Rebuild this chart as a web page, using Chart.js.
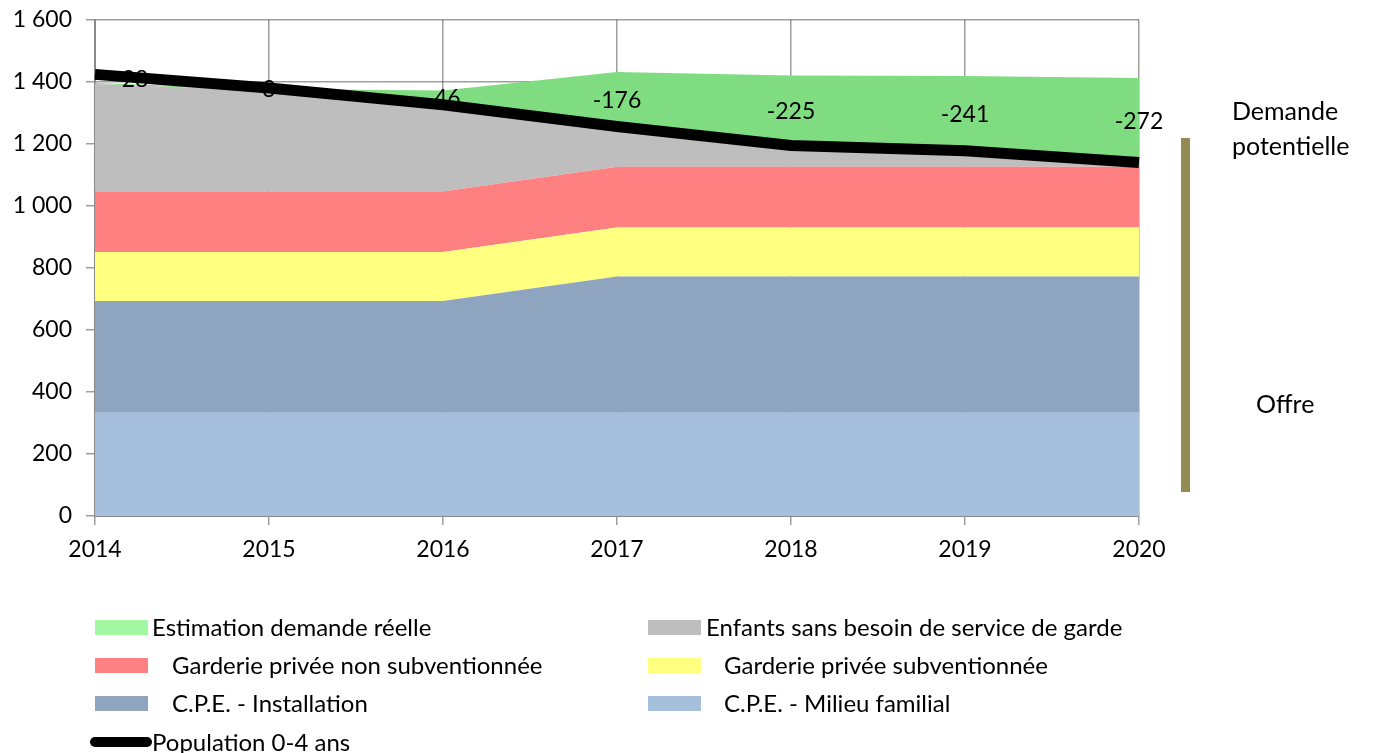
<!DOCTYPE html>
<html>
<head>
<meta charset="utf-8">
<script src="https://cdn.jsdelivr.net/npm/chart.js@4.4.1/dist/chart.umd.min.js"></script>
<style>
  html, body { margin: 0; padding: 0; background: #fff; }
  #wrap { position: relative; width: 1377px; height: 753px; overflow: hidden; font-family: Lato, "Noto Sans", sans-serif; color: #000; }
  #wrap canvas { position: absolute; left: 0; top: -8px; }
  .leg { position: absolute; display: flex; align-items: center; font-size: 24px; white-space: pre; height: 30px; line-height: 30px; }
  .sw { display: inline-block; width: 53px; height: 15px; flex: none; }
  .ln { display: inline-block; width: 62px; height: 10px; border-radius: 5px; background: #000; flex: none; }
  .note { position: absolute; font-size: 25px; line-height: 35px; }
  #bar { position: absolute; left: 1181px; top: 138px; width: 9px; height: 354px; background: #948A54; }
</style>
</head>
<body>
<div id="wrap">
  <canvas id="c" width="1377" height="761"></canvas>
  <div id="bar"></div>
  <div class="note" style="left:1232px; top:93px;">Demande<br>potentielle</div>
  <div class="note" style="left:1256px; top:386px;">Offre</div>
  <div id="legend"></div>
</div>
<script>
// ---- Data ----
const years = ['2014', '2015', '2016', '2017', '2018', '2019', '2020'];
const cpeMilieuFamilial = [333, 333, 333, 333, 333, 333, 333];
const cpeInstallation = [360, 360, 360, 439, 439, 439, 439];
const garderieSubventionnee = [158, 158, 158, 158, 158, 158, 158];
const garderieNonSubventionnee = [195, 195, 195, 196, 196, 196, 196];
const enfantsSansBesoin = [347, 326, 276, 119, 56, 42, 6];
const demandeReelle = [3, 5, 50, 187, 238, 251, 280];
const population04 = [1424, 1380, 1326, 1256, 1195, 1178, 1140];
const ecartLabels = ['28', '3', '-46', '-176', '-225', '-241', '-272'];
const yTicks = [0, 200, 400, 600, 800, 1000, 1200, 1400, 1600];

const FONT = 'Lato, "Noto Sans", sans-serif';

const areaSeries = [
  { label: 'C.P.E. - Milieu familial', data: cpeMilieuFamilial, color: '#A6BFDC' },
  { label: 'C.P.E. - Installation', data: cpeInstallation, color: '#8EA4BF' },
  { label: 'Garderie privée subventionnée', data: garderieSubventionnee, color: '#FFFF80' },
  { label: 'Garderie privée non subventionnée', data: garderieNonSubventionnee, color: '#FF8080' },
  { label: 'Enfants sans besoin de service de garde', data: enfantsSansBesoin, color: '#BEBEBE' },
  { label: 'Estimation demande réelle', data: demandeReelle, color: '#80DC80' }
];

const datasets = areaSeries.map((s, i) => ({
  label: s.label,
  data: s.data,
  stack: 'offre',
  backgroundColor: s.color,
  borderWidth: 0,
  pointRadius: 0,
  fill: i === 0 ? 'origin' : '-1',
  tension: 0,
  order: 10
}));
datasets.push({
  label: 'Population 0-4 ans',
  data: population04,
  stack: 'pop',
  borderColor: '#000',
  borderWidth: 11,
  pointRadius: 0,
  fill: false,
  tension: 0,
  order: 0
});

const labelPlugin = {
  id: 'ecart',
  afterDatasetsDraw(chart) {
    const ctx = chart.ctx;
    const xs = chart.scales.x, ys = chart.scales.y;
    ctx.save();
    ctx.font = '23px ' + FONT;
    ctx.fillStyle = '#000';
    ctx.textBaseline = 'middle';
    ctx.textAlign = 'center';
    years.forEach((y, i) => {
      let top = 0;
      areaSeries.forEach(s => top += s.data[i]);
      const v = (top + population04[i]) / 2;
      let x = xs.getPixelForValue(i);
      if (i === 0) x += 40;
      ctx.fillText(ecartLabels[i], x, ys.getPixelForValue(v) + 1);
    });
    ctx.restore();
  }
};

const gridColor = 'rgba(40,40,40,0.45)';
new Chart(document.getElementById('c'), {
  type: 'line',
  data: { labels: years, datasets },
  options: {
    responsive: false,
    animation: false,
    layout: { padding: { left: 0, right: 238, top: 12, bottom: 187 } },
    plugins: { legend: { display: false }, tooltip: { enabled: false } },
    scales: {
      x: {
        z: 1,
        offset: false,
        grid: { color: gridColor, lineWidth: 1.5, tickLength: 9, drawTicks: true },
        border: { color: '#8a8a8a', width: 2 },
        ticks: { color: '#000', font: { family: FONT, size: 23 }, padding: 11, maxRotation: 0 },
        afterFit(s) { s.height = 50; }
      },
      y: {
        stacked: true,
        z: 1,
        min: 0, max: 1600,
        afterBuildTicks(s) { s.ticks = yTicks.map(v => ({ value: v })); },
        grid: { color: gridColor, lineWidth: 1.5, tickLength: 9 },
        border: { color: '#8a8a8a', width: 2 },
        ticks: {
          color: '#000', font: { family: FONT, size: 23 }, padding: 14,
          callback: v => String(v).replace(/\B(?=(\d{3})+(?!\d))/g, ' ')
        },
        afterFit(s) { s.width = 95; }
      }
    }
  },
  plugins: [labelPlugin]
});

// ---- HTML legend ----
const legendItems = [
  { label: 'Estimation demande réelle', color: '#A2F8A2', x: 95, y: 627, pad: 4 },
  { label: 'Enfants sans besoin de service de garde', color: '#BEBEBE', x: 648, y: 627, pad: 5 },
  { label: 'Garderie privée non subventionnée', color: '#FF8080', x: 95, y: 665, pad: 24 },
  { label: 'Garderie privée subventionnée', color: '#FFFF80', x: 648, y: 665, pad: 23 },
  { label: 'C.P.E. - Installation', color: '#8EA4BF', x: 95, y: 703, pad: 24 },
  { label: 'C.P.E. - Milieu familial', color: '#A6BFDC', x: 648, y: 703, pad: 23 }
];
const leg = document.getElementById('legend');
legendItems.forEach(it => {
  const d = document.createElement('div');
  d.className = 'leg';
  d.style.left = it.x + 'px';
  d.style.top = (it.y - 15) + 'px';
  const sw = document.createElement('span');
  sw.className = 'sw';
  sw.style.background = it.color;
  sw.style.marginRight = it.pad + 'px';
  d.appendChild(sw);
  d.appendChild(document.createTextNode(it.label));
  leg.appendChild(d);
});
const p = document.createElement('div');
p.className = 'leg';
p.style.left = '90px';
p.style.top = (742 - 15) + 'px';
const l = document.createElement('span');
l.className = 'ln';
p.appendChild(l);
p.appendChild(document.createTextNode(datasets[datasets.length - 1].label));
leg.appendChild(p);
</script>
</body>
</html>
